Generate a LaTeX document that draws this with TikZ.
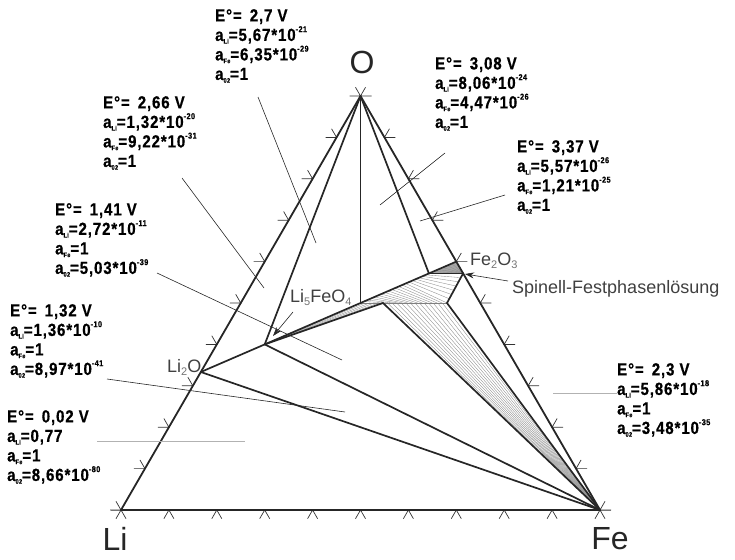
\documentclass[tikz,border=0pt]{standalone}
\usepackage{fontspec}
\setmainfont{Liberation Sans}
\newfontfamily\condf{Liberation Sans}[FakeStretch=0.86, LetterSpace=5, BoldFeatures={FakeBold=0.6}]
\usetikzlibrary{calc,arrows.meta}
\newcommand{\pw}[1]{\raisebox{0.95ex}{\fontsize{8.5}{8.5}\selectfont #1}}
\newcommand{\sbx}[1]{\raisebox{-0.3ex}{\fontsize{6.5}{6.5}\selectfont #1}}
\newcommand{\csub}[1]{\raisebox{-0.35ex}{\fontsize{11}{11}\selectfont\color{black!55}#1}}
\newcommand{\elabtext}[4]{E°=\, #1 V\\a\sbx{Li}=#2\\a\sbx{Fe}=#3\\a\sbx{02}=#4}
\begin{document}
\begin{tikzpicture}[x=1pt,y=-1pt,
  edge/.style={line width=1.8pt, draw=black!85, line cap=round, line join=round},
  phase/.style={line width=1.7pt, draw=black!85, line cap=round},
  hatch/.style={line width=0.35pt, draw=black!45},
  leader/.style={line width=0.6pt, draw=black!85},
  gleader/.style={line width=0.9pt, draw=black!30},
  tickmark/.style={line width=0.7pt, draw=black!80},
  vlab/.style={font=\fontsize{32}{32}\selectfont, text=black!85, inner sep=0pt},
  clab/.style={font=\fontsize{18}{18}\selectfont, text=black!75, inner sep=0pt, anchor=base west},
  elab/.style={anchor=north west, inner sep=0pt, align=left, font=\condf\bfseries\fontsize{17.5}{19.5}\selectfont},
  arr/.style={line width=0.6pt, draw=black!85, -{Stealth[length=9pt,width=6pt]}}
]
\useasboundingbox (0,0) rectangle (735,559);

% composition points
\coordinate (Li) at (121,510);
\coordinate (Fe) at (600,510);
\coordinate (O) at (360.5,96);
\coordinate (Li2O) at (200.8,372);
\coordinate (Li5FeO4) at (264.7,344.4);
\coordinate (LiFeO2) at (360.5,303);
\coordinate (LiFe5O8) at (428.9,273.4);
\coordinate (Fe2O3) at (456.3,261.6);
\coordinate (Fe3O4) at (463.1,273.4);
\coordinate (Q1) at (383,303);
\coordinate (Q2) at (447,303);

% hatching
\fill[black!35] (LiFe5O8) -- (Fe2O3) -- (Fe3O4) -- cycle;
\foreach \i in {1,...,5}{
  \pgfmathsetmacro\ta{\i/6}
  \draw[hatch] (Fe3O4) -- ($(LiFe5O8)!\ta!(Fe2O3)$);
}
\foreach \i in {1,...,4}{
  \pgfmathsetmacro\ta{\i/5}
  \draw[hatch] (Li5FeO4) -- ($(LiFeO2)!\ta!(Q1)$);
}
\foreach \i in {1,...,12}{
  \pgfmathsetmacro\ta{\i/13*0.66}
  \pgfmathsetmacro\tb{\i/13}
  \draw[hatch] ($(LiFeO2)!\ta!(LiFe5O8)$) -- ($(Q1)!\tb!(Q2)$);
}
\foreach \i in {0,...,6}{
  \pgfmathsetmacro\ta{0.66+\i/7*0.34}
  \pgfmathsetmacro\tb{\i/7}
  \draw[hatch] ($(LiFeO2)!\ta!(LiFe5O8)$) -- ($(Q2)!\tb!(Fe3O4)$);
}
\foreach \i in {1,...,13}{
  \pgfmathsetmacro\ta{\i/14}
  \draw[hatch] (Fe) -- ($(Q1)!\ta!(Q2)$);
}
\draw[hatch, line width=0.5pt, black!50] (LiFeO2) -- (Q2);

% base extension
\draw[line width=0.8pt, black!40] ($(Li)+(-10,0)$) -- ($(Fe)+(11,0)$);

% ticks
\foreach \k in {0,...,10}{
  \pgfmathsetmacro\tk{\k/10}
  \coordinate (bt) at ($(Li)!\tk!(Fe)$);
  \draw[tickmark] ($(bt)+(-5,8.66)$) -- (bt) -- ($(bt)+(5,8.66)$);
  \coordinate (lt) at ($(Li)!\tk!(O)$);
  \draw[tickmark] ($(lt)+(-11,0)$) -- (lt) -- ($(lt)+(-5,-8.66)$);
  \coordinate (rt) at ($(Fe)!\tk!(O)$);
  \draw[tickmark] ($(rt)+(11,0)$) -- (rt) -- ($(rt)+(5,-8.66)$);
}

% phase lines
\draw[phase] (O) -- (Li5FeO4);
\draw[phase] (O) -- (LiFeO2);
\draw[phase] (O) -- (LiFe5O8);
\draw[phase] (Li2O) -- (Li5FeO4);
\draw[phase] (Li2O) -- (Fe);
\draw[phase] (Li5FeO4) -- (Fe);
\draw[phase] (Li5FeO4) -- (Fe2O3);
\draw[phase] (Li5FeO4) -- (Q1);
\draw[phase] (Q1) -- (Fe);
\draw[phase] (Q2) -- (Fe);
\draw[phase] (LiFe5O8) -- (Fe3O4);
\draw[phase] (Q2) -- (Fe3O4);

% triangle
\draw[edge] (Li) -- (Fe) -- (O) -- cycle;

% vertex labels
\node[vlab] (tO) at (362,62) {O};
\node[vlab] (tLi) at (115,539) {Li};
\node[vlab] (tFe) at (610,539) {Fe};

% compound labels
\node[clab] (tLi2O) at (167,372) {Li\csub{2}O};
\node[clab] (tLi5) at (290,302) {Li\csub{5}FeO\csub{4}};
\node[clab] (tFe2O3) at (470,265) {Fe\csub{2}O\csub{3}};
\node[clab] (tSp) at (512,293) {Spinell-Festphasenlösung};

\coordinate (a1s) at (293,312);
\coordinate (a1e) at (273,336);
\draw[arr] (a1s) -- (a1e);
\coordinate (a2s) at (508,281);
\coordinate (a2e) at (465,274);
\draw[arr] (a2s) -- (a2e);

% potential labels
\node[elab] (e1) at (215,9) {\elabtext{2,7}{5,67*10\pw{-21}}{6,35*10\pw{-29}}{1}};
\node[elab] (e2) at (103,96) {\elabtext{2,66}{1,32*10\pw{-20}}{9,22*10\pw{-31}}{1}};
\node[elab] (e3) at (435,57) {\elabtext{3,08}{8,06*10\pw{-24}}{4,47*10\pw{-26}}{1}};
\node[elab] (e4) at (517,140) {\elabtext{3,37}{5,57*10\pw{-26}}{1,21*10\pw{-25}}{1}};
\node[elab] (e5) at (55,203) {\elabtext{1,41}{2,72*10\pw{-11}}{1}{5,03*10\pw{-39}}};
\node[elab] (e6) at (10,304) {\elabtext{1,32}{1,36*10\pw{-10}}{1}{8,97*10\pw{-41}}};
\node[elab] (e7) at (7,410) {\elabtext{0,02}{0,77}{1}{8,66*10\pw{-80}}};
\node[elab] (e8) at (617,363) {\elabtext{2,3}{5,86*10\pw{-18}}{1}{3,48*10\pw{-35}}};

% leaders
\coordinate (l1a) at (258,97);  \coordinate (l1b) at (316,243);
\coordinate (l2a) at (445,153); \coordinate (l2b) at (380,205);
\coordinate (l3a) at (505,195); \coordinate (l3b) at (420,221);
\coordinate (l4a) at (182,178); \coordinate (l4b) at (264,288);
\coordinate (l5a) at (157,273); \coordinate (l5b) at (342,360);
\coordinate (l6a) at (107,379); \coordinate (l6b) at (345,412);
\coordinate (l7a) at (97,441);  \coordinate (l7b) at (245,441);
\coordinate (l8a) at (617,393); \coordinate (l8b) at (553,393);
\draw[leader] (l1a) -- (l1b);
\draw[leader] (l2a) -- (l2b);
\draw[leader] (l3a) -- (l3b);
\draw[leader] (l4a) -- (l4b);
\draw[leader] (l5a) -- (l5b);
\draw[leader] (l6a) -- (l6b);
\draw[gleader] (l7a) -- (l7b);
\draw[gleader] (l8a) -- (l8b);
\end{tikzpicture}
\end{document}
